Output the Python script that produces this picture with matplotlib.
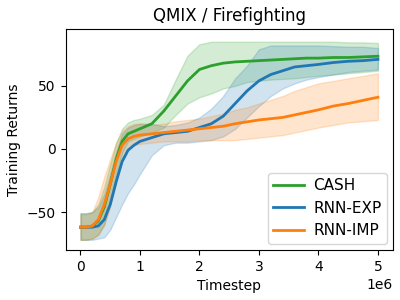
import numpy as np
import matplotlib
matplotlib.use('Agg')
import matplotlib.pyplot as plt

# timesteps (millions)
steps = [0, 0.1, 0.2, 0.3, 0.4, 0.5, 0.6, 0.7, 0.8, 0.9, 1.0, 1.2, 1.4, 1.6, 1.8,
         2.0, 2.2, 2.4, 2.6, 2.8, 3.0, 3.2, 3.4, 3.6, 3.8, 4.0, 4.25, 4.5, 4.75, 5.0]

cash_mean = [-62, -62, -61, -57, -46, -28, -8, 6, 12, 14, 16, 20, 30, 42, 54,
             63, 66, 68, 69, 69.5, 70, 70.5, 71, 71.5, 72, 72, 72.5, 72.5, 73, 73.5]
cash_hi = [-51, -51, -50, -44, -30, -12, 5, 16, 21, 23, 24, 27, 35, 55, 74,
           83, 85, 85, 85, 85, 85, 85, 85, 85, 85, 85, 85, 84.5, 84.5, 84]
cash_lo = [-72, -72, -71, -68, -60, -42, -20, -3, 6, 8, 10, 13, 17, 27, 36,
           41, 44, 48, 50, 53, 54, 55, 55.5, 56, 57, 58, 59, 60, 61, 62]

exp_mean = [-62, -62, -62, -61, -56, -44, -26, -10, -1, 3, 6, 9, 12, 13, 14,
            17, 20, 26, 36, 46, 54, 59, 62, 65, 66, 67, 68.5, 69.5, 70, 71]
exp_hi = [-51, -51, -50, -46, -36, -20, -2, 12, 17, 19, 20, 20, 18, 19, 21,
          25, 32, 42, 56, 66, 79, 82, 82, 82, 82, 82, 81.5, 81, 81, 80]
exp_lo = [-72, -72, -72, -71, -70, -64, -54, -44, -35, -28, -20, -5, 3, 5, 5,
          6, 7, 10, 16, 25, 34, 42, 48, 52, 55, 57, 59, 61, 62, 63]

imp_mean = [-62, -62, -61, -56, -44, -28, -10, 3, 8, 10, 11, 12, 13, 14, 15,
            16, 17, 18, 20, 21.5, 23, 24, 25, 27, 29, 31, 34, 36, 38.5, 41]
imp_hi = [-52, -52, -50, -38, -22, -8, 5, 14, 18, 20, 20, 19, 20, 22, 23,
          24, 26, 28, 31, 33, 36, 39, 42, 46, 49, 52, 54, 56, 58, 60]
imp_lo = [-72, -72, -71, -68, -60, -46, -26, -8, 0, 3, 4, 5, 6, 6, 6,
          7, 7, 7, 7, 8, 9, 10, 11, 13, 15, 17, 19, 21, 22, 23]

y_ticks = [-50, 0, 50]

x = np.array(steps) * 1e6

plt.figure(figsize=(4, 3), dpi=100)

plt.fill_between(x, cash_lo, cash_hi, color='tab:green', alpha=0.2)
plt.plot(x, cash_mean, label='CASH', color='tab:green', linewidth=2)

plt.fill_between(x, exp_lo, exp_hi, color='tab:blue', alpha=0.2)
plt.plot(x, exp_mean, label='RNN-EXP', color='tab:blue', linewidth=2)

plt.fill_between(x, imp_lo, imp_hi, color='tab:orange', alpha=0.2)
plt.plot(x, imp_mean, label='RNN-IMP', color='tab:orange', linewidth=2)

plt.yticks(y_ticks)
plt.ylim(-80, 95)
plt.xlabel('Timestep')
plt.ylabel('Training Returns')
plt.title('QMIX / Firefighting')
plt.legend(loc='lower right', fontsize=11, handletextpad=0.6,
           borderpad=0.35, borderaxespad=0.4)
plt.subplots_adjust(left=0.164, right=0.982, top=0.903, bottom=0.167)
plt.savefig('out.png', dpi=100)
